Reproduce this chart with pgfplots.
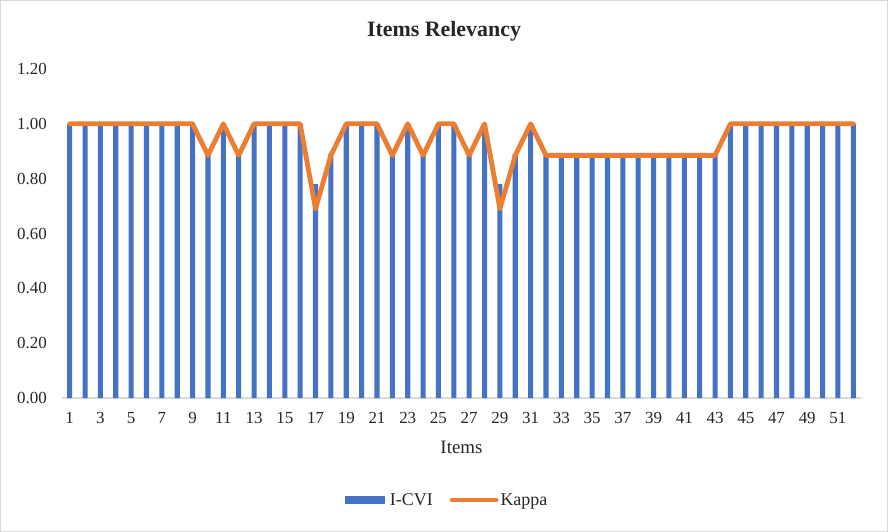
\documentclass[border=0pt]{standalone}
\usepackage{pgfplots}
\pgfplotsset{compat=1.18}
\usepackage{fontspec}
\setmainfont{Liberation Serif}
\definecolor{barblue}{HTML}{4472C4}
\definecolor{lineorange}{HTML}{ED7D31}
\definecolor{framegray}{HTML}{D9D9D9}
\pgfplotstableread{
item icvi kappa
1 1.00 1.00
2 1.00 1.00
3 1.00 1.00
4 1.00 1.00
5 1.00 1.00
6 1.00 1.00
7 1.00 1.00
8 1.00 1.00
9 1.00 1.00
10 0.89 0.885
11 1.00 1.00
12 0.89 0.885
13 1.00 1.00
14 1.00 1.00
15 1.00 1.00
16 1.00 1.00
17 0.78 0.69
18 0.89 0.885
19 1.00 1.00
20 1.00 1.00
21 1.00 1.00
22 0.89 0.885
23 1.00 1.00
24 0.89 0.885
25 1.00 1.00
26 1.00 1.00
27 0.89 0.885
28 1.00 1.00
29 0.78 0.69
30 0.89 0.885
31 1.00 1.00
32 0.89 0.885
33 0.89 0.885
34 0.89 0.885
35 0.89 0.885
36 0.89 0.885
37 0.89 0.885
38 0.89 0.885
39 0.89 0.885
40 0.89 0.885
41 0.89 0.885
42 0.89 0.885
43 0.89 0.885
44 1.00 1.00
45 1.00 1.00
46 1.00 1.00
47 1.00 1.00
48 1.00 1.00
49 1.00 1.00
50 1.00 1.00
51 1.00 1.00
52 1.00 1.00
}\datatable
\begin{document}
\begin{tikzpicture}
\draw[framegray, line width=1bp] (0.5bp,0.5bp) rectangle (887.5bp,531.5bp);
\node[font=\fontsize{22}{24}\selectfont\bfseries, text=black!85] at (444bp,501bp) {Items Relevancy};
\begin{axis}[
  at={(62bp,134bp)}, anchor=south west,
  scale only axis, width=799bp, height=329bp,
  xmin=0.5, xmax=52.5, ymin=0, ymax=1.2,
  axis lines*=left,
  x axis line style={-, draw=framegray, line width=1.2bp},
  y axis line style={draw=none},
  major tick length=0pt,
  xtick={1,3,...,51},
  ytick={0,0.2,...,1.2},
  /pgf/number format/assume math mode=true,
  yticklabel style={/pgf/number format/.cd, fixed, fixed zerofill, precision=2, /tikz/.cd, anchor=east, inner sep=0pt, xshift=-15bp, font=\fontsize{17}{20}\selectfont, text=black!85},
  xticklabel style={anchor=center, inner sep=0pt, yshift=-20bp, font=\fontsize{17}{20}\selectfont, text=black!85},
  xlabel={Items},
  xlabel style={at={(axis description cs:0.5,-0.149)}, anchor=center, inner sep=0pt, font=\fontsize{19}{22}\selectfont, text=black!85},
  legend columns=2,
  legend style={at={(0.482,-0.31)}, anchor=center, draw=none, font=\fontsize{18}{20}\selectfont, text=black!85,
    /tikz/every even column/.append style={column sep=15bp}},
  clip=false,
]
\addplot[ybar, bar width=0.33, fill=barblue, draw=none,
  legend image code/.code={\fill[barblue] (0bp,-4.3bp) rectangle (40bp,4.3bp); \path (0bp,0bp) -- (43bp,0bp);}]
  table[x=item, y=icvi] {\datatable};
\addlegendentry{I-CVI}
\addplot[lineorange, line width=4.8bp, line join=round, line cap=round, mark=none,
  legend image code/.code={\draw[lineorange, line width=4.8bp, line cap=round] (2bp,0bp) -- (42bp,0bp); \path (0bp,0bp) -- (44bp,0bp);}]
  table[x=item, y=kappa] {\datatable};
\addlegendentry{Kappa}
\end{axis}
\end{tikzpicture}
\end{document}
